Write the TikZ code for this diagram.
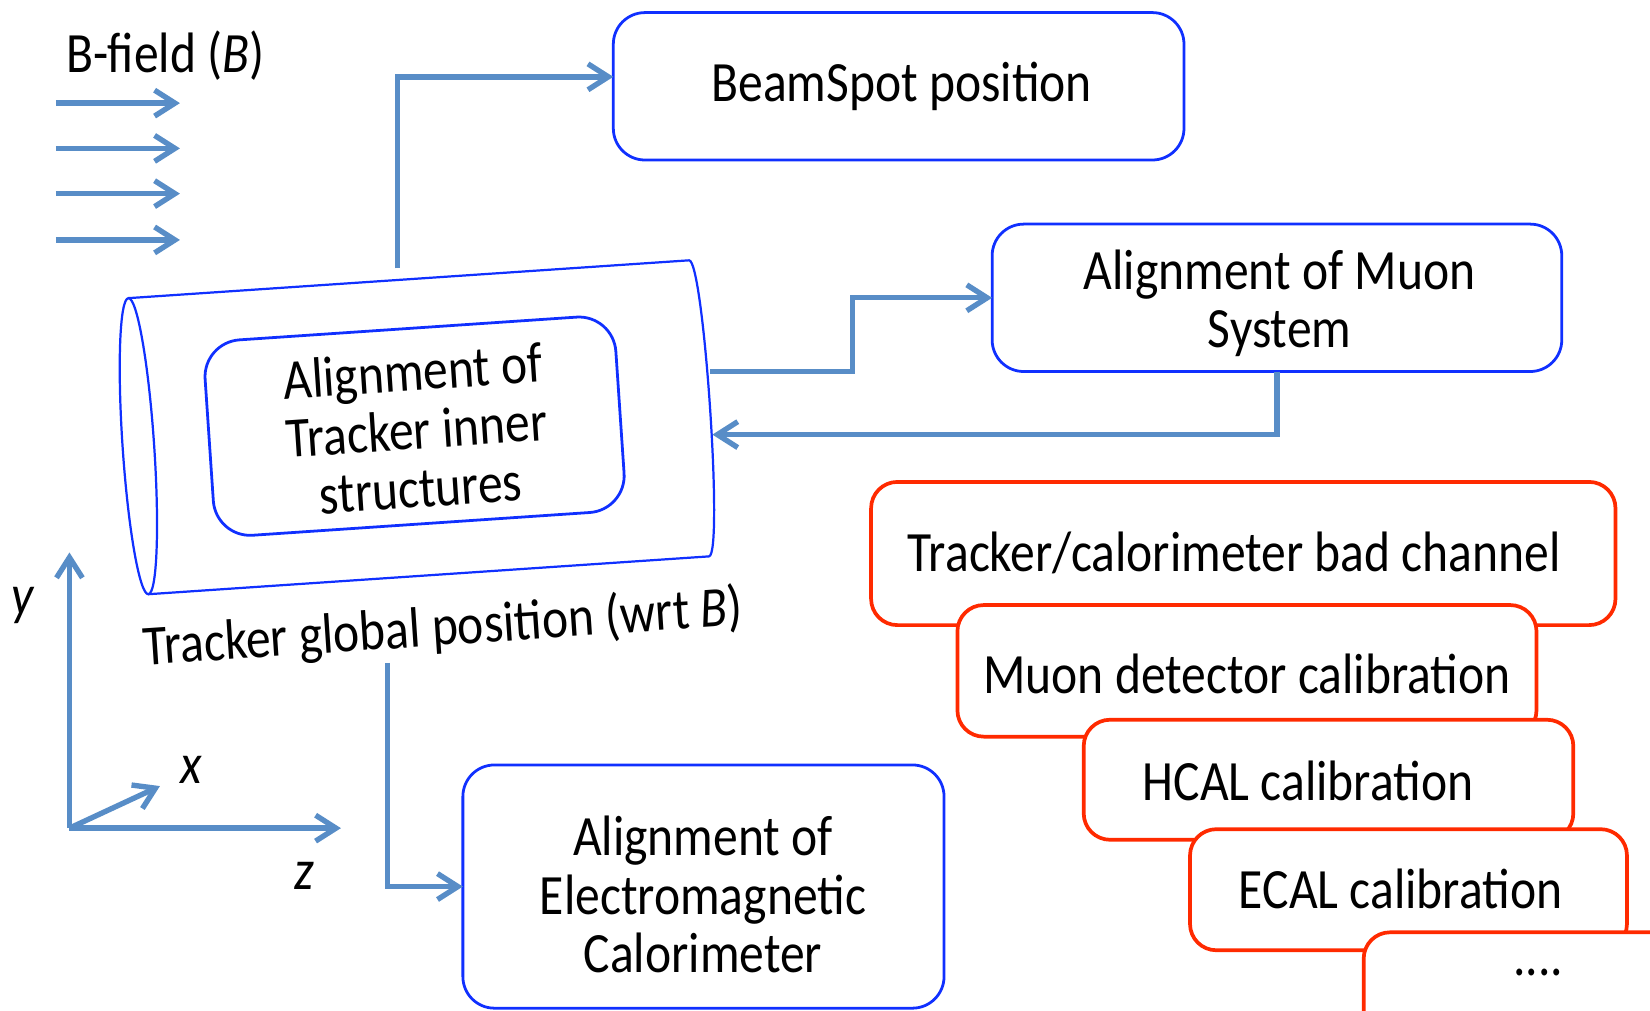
\documentclass[tikz,border=0pt]{standalone}
\usepackage{fontspec}
\setmainfont{Carlito}[FakeStretch=0.87]
\usetikzlibrary{arrows.meta}
\definecolor{connc}{RGB}{88,141,199}
\definecolor{bboxc}{RGB}{16,48,255}
\definecolor{rboxc}{RGB}{255,42,0}
\tikzset{
 txt/.style={font=\fontsize{15.4}{15.8}\selectfont, align=center, inner sep=0pt},
 bluebox/.style={draw=bboxc, line width=0.75pt, rounded corners=0.3cm, fill=white, inner sep=0pt, outer sep=0pt},
 redbox/.style={draw=rboxc, line width=1pt, rounded corners=0.25cm, fill=white, inner sep=0pt, outer sep=0pt},
 link/.style={draw=connc, line width=1.45pt, -{Straight Barb[length=5.5pt,width=7pt]}},
 cyl/.style={draw=bboxc, line width=0.6pt},
}
\begin{document}
\begin{tikzpicture}[x=0.01cm,y=-0.01cm]
\useasboundingbox (0,0) rectangle (1568,960);
\clip (0,0) rectangle (1568,960);

% B field
\node[txt] (bfield) at (157,53) {B-field (\textit{B})};
\foreach \i/\yy in {1/98,2/141,3/184,4/228}{
  \coordinate (fa\i) at (53,\yy);
  \coordinate (fb\i) at (171,\yy);
  \draw[link] (fa\i) -- (fb\i);
}

% cylinder
\begin{scope}[shift={(131.5,424)}, rotate=3.86]
  \fill[white] (0,-141) -- (534,-141) .. controls (548,-141) and (548,141) .. (534,141) -- (0,141) -- cycle;
  \draw[cyl] (0,-141) -- (534,-141) .. controls (548,-141) and (548,141) .. (534,141) -- (0,141);
  \draw[cyl] (0,0) ellipse [x radius=15, y radius=141];
\end{scope}
\node[bluebox, rotate=3.86, minimum width=3.91cm, minimum height=1.86cm, rounded corners=0.35cm] (inner) at (394,405) {};
\node[txt, rotate=3.86] (innertxt) at (396,408) {Alignment of\\Tracker inner\\structures};
\node[txt, rotate=3.86] (trlabel) at (421,598) {Tracker global position (wrt \textit{B})};

% boxes
\node[bluebox, minimum width=5.42cm, minimum height=1.40cm] (beam) at (854,82) {};
\node[txt] (beamtxt) at (857,82) {BeamSpot position};
\node[bluebox, minimum width=5.41cm, minimum height=1.40cm] (muon) at (1213.5,283) {};
\node[txt] (muontxt) at (1216,288) {Alignment of Muon\\System};
\node[bluebox, minimum width=4.57cm, minimum height=2.31cm] (em) at (668.5,842.5) {};
\node[txt] (emtxt) at (668,850) {Alignment of\\Electromagnetic\\Calorimeter};

% connectors
\coordinate (trTop) at (378,255);
\coordinate (trR1) at (675,353);
\coordinate (trR2) at (677,413);
\coordinate (trBot) at (368,630);
\draw[link] (trTop) |- ([yshift=0.09cm]beam.west);
\draw[link] (trR1) -- (810,353) |- (muon.west);
\draw[link] (muon.south) |- (trR2);
\draw[link] (trBot) |- (em.west);

% axes
\coordinate (O) at (66,787);
\coordinate (yend) at (66,525);
\coordinate (zend) at (324,787);
\coordinate (xend) at (152,747);
\draw[link] (O) -- (yend);
\draw[link] (O) -- (zend);
\draw[link] (O) -- (xend);
\node[txt] (ylab) at (22,575) {\textit{y}};
\node[txt] (xlab) at (182,732) {\textit{x}};
\node[txt] (zlab) at (289,832) {\textit{z}};

% red stack
\node[redbox, minimum width=7.07cm, minimum height=1.36cm] (r1) at (1181.5,526) {};
\node[txt] (t1) at (1173,525) {Tracker/calorimeter bad channel};
\node[redbox, minimum width=5.50cm, minimum height=1.25cm] (r2) at (1185,637.5) {};
\node[txt] (t2) at (1185,640) {Muon detector calibration};
\node[redbox, minimum width=4.65cm, minimum height=1.14cm] (r3) at (1262.5,741) {};
\node[txt] (t3) at (1243,742) {HCAL calibration};
\node[redbox, minimum width=4.15cm, minimum height=1.15cm] (r4) at (1338.5,845.5) {};
\node[txt] (t4) at (1331,845) {ECAL calibration};
\node[redbox, minimum width=3.10cm, minimum height=1.10cm] (r5) at (1451,941) {};
\node[txt] (t5) at (1462,924) {....};
\end{tikzpicture}
\end{document}
